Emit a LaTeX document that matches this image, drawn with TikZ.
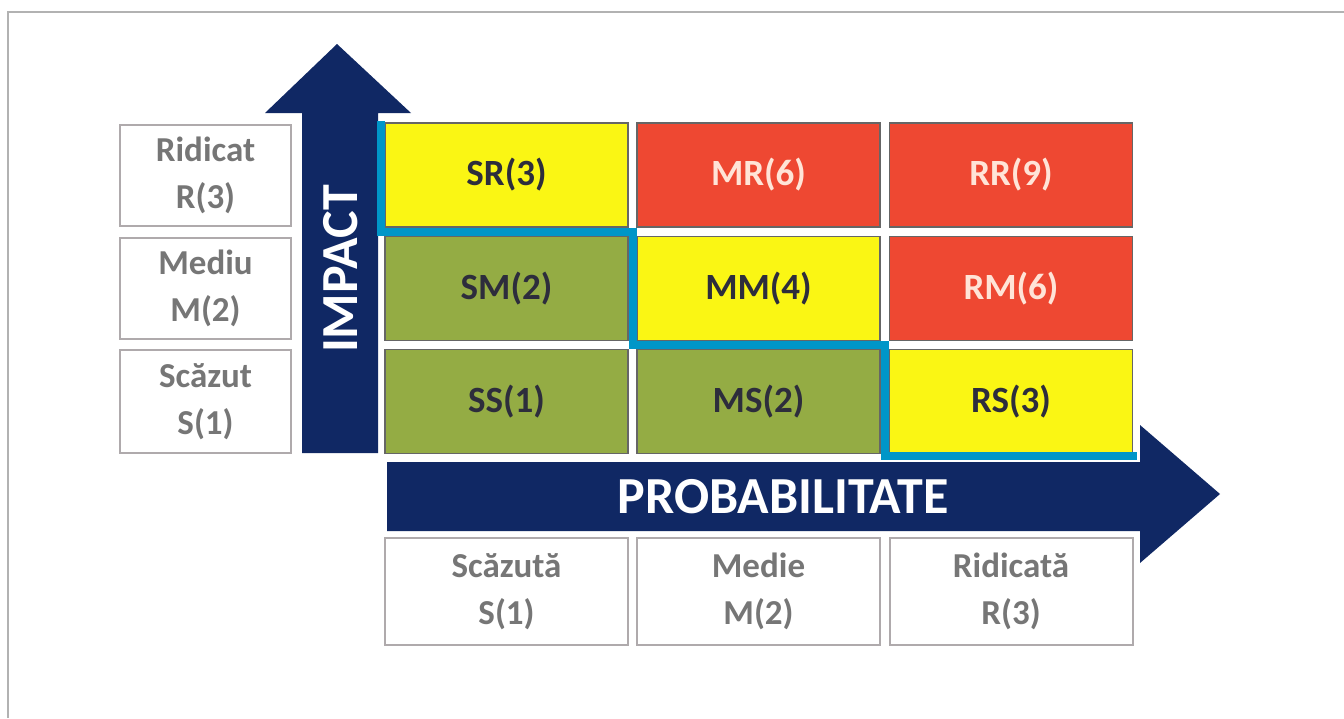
\documentclass[tikz,border=0pt]{standalone}
\usepackage{fontspec}
\setmainfont{Carlito}
\usetikzlibrary{calc}
\definecolor{navy}{RGB}{16,40,100}
\definecolor{cyel}{RGB}{250,246,20}
\definecolor{cred}{RGB}{238,72,50}
\definecolor{cgrn}{RGB}{148,172,68}
\definecolor{cline}{RGB}{0,150,200}
\definecolor{ctxt}{RGB}{45,45,60}
\definecolor{rtxt}{RGB}{255,228,215}
\definecolor{ltxt}{RGB}{118,118,118}
\definecolor{lbord}{RGB}{175,170,172}
\tikzset{
  cell/.style={draw=gray!80!black, line width=1.2pt, minimum width=243pt, minimum height=104pt,
    inner sep=0pt, font=\fontsize{37}{44}\selectfont\bfseries, text=ctxt},
  redcell/.style={cell, fill=cred, text=rtxt},
  yelcell/.style={cell, fill=cyel},
  grncell/.style={cell, fill=cgrn},
  lbl/.style={draw=lbord, line width=2pt, fill=white, inner sep=0pt, align=center,
    font=\fontsize{35}{47}\selectfont\bfseries, text=ltxt},
  arrowtext/.style={text=white, font=\fontsize{52}{60}\selectfont\bfseries, inner sep=0pt},
  frame/.style={draw=gray!60, line width=1.5pt},
  zone/.style={draw=cline, line width=8pt, line join=miter}
}
\begin{document}
\begin{tikzpicture}[x=1pt,y=-1pt]
\useasboundingbox (0,0) rectangle (1344,718);
\fill[white] (0,0) rectangle (1344,718);
% frame
\draw[frame] (8,718) -- (8,12) -- (1344,12);
% vertical arrow
\fill[navy] (302,453) -- (302,113) -- (265,113) -- (337,44) -- (411,113) -- (378,113) -- (378,453) -- cycle;
\node[arrowtext, rotate=90] (impact) at (341,269) {IMPACT};
% horizontal arrow
\fill[navy] (387,462) -- (1140,462) -- (1140,425) -- (1220,494) -- (1140,563) -- (1140,531) -- (387,531) -- cycle;
\node[arrowtext] (prob) at (783,497) {PROBABILITATE};
% grid cells
\node[yelcell] (sr) at (506.5,175) {SR(3)};
\node[redcell] (mr) at (758.5,175) {MR(6)};
\node[redcell] (rr) at (1011,175) {RR(9)};
\node[grncell] (sm) at (506.5,288.5) {SM(2)};
\node[yelcell] (mm) at (758.5,288.5) {MM(4)};
\node[redcell] (rm) at (1011,288.5) {RM(6)};
\node[grncell] (ss) at (506.5,401.5) {SS(1)};
\node[grncell] (ms) at (758.5,401.5) {MS(2)};
\node[yelcell] (rs) at (1011,401.5) {RS(3)};
% zone line
\coordinate (z0) at (381,121);
\coordinate (z1) at (381,232);
\coordinate (z2) at (632.5,232);
\coordinate (z3) at (632.5,345);
\coordinate (z4) at (884.5,345);
\coordinate (z5) at (884.5,456);
\coordinate (z6) at (1137,456);
\draw[zone] (z0) -- (z1) -- (z2) -- (z3) -- (z4) -- (z5) -- (z6);
% impact labels
\node[lbl, minimum width=171pt, minimum height=101pt] (ir) at (205.5,175.5) {Ridicat\\R(3)};
\node[lbl, minimum width=171pt, minimum height=101pt] (im) at (205.5,288.5) {Mediu\\M(2)};
\node[lbl, minimum width=171pt, minimum height=103pt] (is) at (205.5,401.5) {Scăzut\\S(1)};
% probability labels
\node[lbl, minimum width=243pt, minimum height=107pt] (ps) at (506.5,591.5) {Scăzută\\S(1)};
\node[lbl, minimum width=243pt, minimum height=107pt] (pm) at (758.5,591.5) {Medie\\M(2)};
\node[lbl, minimum width=243pt, minimum height=107pt] (pr) at (1011,591.5) {Ridicată\\R(3)};
\end{tikzpicture}
\end{document}
